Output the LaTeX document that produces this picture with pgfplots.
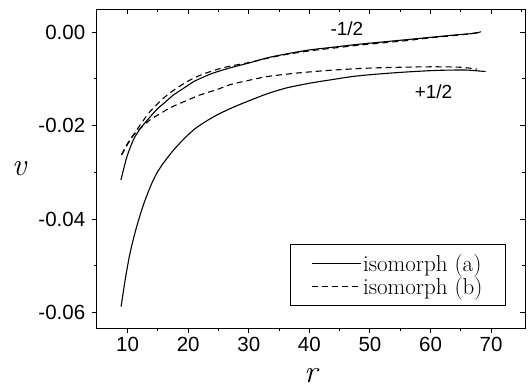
\documentclass[border=0pt]{standalone}
\usepackage{fontspec}
\usepackage{pgfplots}
\pgfplotsset{compat=1.18}
\newfontfamily\arial{Liberation Sans}
\begin{document}
\begin{tikzpicture}
\begin{axis}[name=main,
  scale only axis, width=428.3pt, height=319.2pt,
  xmin=4.9, xmax=75.6, ymin=-0.0634, ymax=0.0049,
  xtick={10,20,30,40,50,60,70}, ytick={-0.06,-0.04,-0.02,0},
  scaled y ticks=false, scaled x ticks=false,
  minor x tick num=1, minor y tick num=1,
  major tick length=5pt, minor tick length=3pt,
  every tick/.style={black, line width=0.9pt},
  axis line style={line width=1pt},
  tick align=outside, tick pos=left,
  xticklabels={10,20,30,40,50,60,70},
  yticklabels={-0.06,-0.04,-0.02,0.00},
  ticklabel style={font=\arial\fontsize{20.5}{24}\selectfont},
  yticklabel style={xshift=-3pt},
  xlabel={r}, ylabel={v},
  every axis x label/.style={at={(axis description cs:0.5,0)}, anchor=base, yshift=-54pt, inner sep=0pt, font=\itshape\fontsize{32}{32}\selectfont},
  every axis y label/.style={at={(axis description cs:0,0.5)}, anchor=center, xshift=-77.7pt, inner sep=0pt, font=\itshape\fontsize{32}{32}\selectfont},
  legend style={at={(0.9556,0.0705)}, anchor=south east, draw=black, line width=0.8pt,
    font=\fontsize{23}{24}\selectfont, inner xsep=21pt, inner ysep=8pt, row sep=0pt,
    cells={anchor=west}},
  legend image code/.code={\draw[#1, line width=1pt] (0pt,0pt) -- (49pt,0pt);},
]
% isomorph (a), -1/2
\addplot[black, line width=1.1pt, smooth] coordinates {
(8.9,-0.0316) (9.5,-0.0285) (10,-0.0262) (11,-0.0229) (12,-0.0208) (13,-0.0192)
(14,-0.0177) (15,-0.0163) (16,-0.0152) (17.5,-0.0135) (19,-0.0122) (21,-0.0105)
(22,-0.0099) (24,-0.0088) (27,-0.0076) (30,-0.0066) (33,-0.0055) (36,-0.0047)
(40,-0.0038) (44,-0.0032) (48,-0.0026) (52,-0.0021) (56,-0.0016) (60,-0.0011)
(64,-0.0006) (66,-0.0004) (67.5,-0.0002) (68.3,0.0001)
};
\addlegendentry{isomorph (a)}
% isomorph (b), -1/2
\addplot[black, line width=1.1pt, dash pattern=on 6pt off 4pt, smooth] coordinates {
(9.0,-0.0263) (10.4,-0.0231) (12.1,-0.0198) (13.7,-0.0170) (15.6,-0.0145)
(17.3,-0.0127) (19.8,-0.0106) (22.0,-0.0092) (24.2,-0.0082) (26.4,-0.0074)
(30,-0.0065) (33,-0.0056) (36,-0.0048) (40,-0.0040) (44,-0.0034) (48,-0.0028)
(52,-0.0023) (56,-0.0018) (60,-0.0012) (64,-0.0007) (66,-0.0004) (68.3,0.0000)
};
\addlegendentry{isomorph (b)}
% isomorph (a), +1/2
\addplot[black, line width=1.1pt, smooth, forget plot] coordinates {
(8.93,-0.0587) (9.6,-0.0530) (10.4,-0.0473) (11.5,-0.0416) (12.9,-0.0359)
(14.8,-0.0302) (17.6,-0.0252) (20.9,-0.0209) (24.2,-0.0181) (27.2,-0.0162)
(30,-0.0147) (33,-0.0132) (36,-0.0120) (38.5,-0.0113) (41,-0.0107) (44,-0.0101)
(47,-0.0095) (50,-0.0091) (55,-0.0086) (60.5,-0.0082) (64,-0.0081) (66,-0.0081)
(68,-0.0083) (69.1,-0.0084)
};
% isomorph (b), +1/2
\addplot[black, line width=1.1pt, dash pattern=on 6pt off 4pt, smooth, forget plot] coordinates {
(9.0,-0.0262) (10.0,-0.0238) (11,-0.0220) (12.0,-0.0207) (13,-0.0195) (14,-0.0185)
(15.4,-0.0174) (17.3,-0.0160) (19.8,-0.0146) (22,-0.0134) (24.7,-0.0123)
(27,-0.0112) (30,-0.0103) (33,-0.0095) (36.8,-0.0089) (40,-0.0085) (44,-0.0081)
(49.5,-0.0077) (55,-0.0075) (60.5,-0.0074) (64.9,-0.0075) (67.7,-0.0079)
};
\node[font=\arial\fontsize{19}{19}\selectfont] at (axis cs:46.2,0.0007) {-1/2};
\node[font=\arial\fontsize{19}{19}\selectfont] at (axis cs:60.5,-0.0127) {+1/2};
% inward ticks on the top and right sides
\pgfplotsinvokeforeach{10,20,30,40,50,60,70}{\draw[line width=0.9pt] (axis cs:#1,0.0049) -- ++(0pt,-5pt);}
\pgfplotsinvokeforeach{15,25,35,45,55,65,75}{\draw[line width=0.9pt] (axis cs:#1,0.0049) -- ++(0pt,-3pt);}
\pgfplotsinvokeforeach{-0.06,-0.04,-0.02,0}{\draw[line width=0.9pt] (axis cs:75.6,#1) -- ++(-5pt,0pt);}
\pgfplotsinvokeforeach{-0.05,-0.03,-0.01}{\draw[line width=0.9pt] (axis cs:75.6,#1) -- ++(-3pt,0pt);}
\end{axis}
\path (main.south west) ++(-96.7pt,-61.5pt) rectangle ++(532pt,390pt);
\end{tikzpicture}
\end{document}
